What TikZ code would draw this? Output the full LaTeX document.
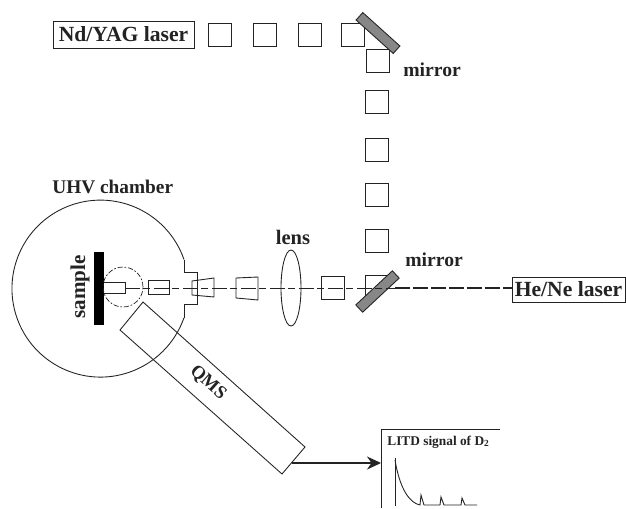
\documentclass[tikz,border=0pt]{standalone}
\usepackage{fontspec}
\setmainfont{Liberation Serif}
\usetikzlibrary{arrows.meta}
\definecolor{ink}{RGB}{35,35,35}
\definecolor{mirrorfill}{RGB}{135,135,135}
\tikzset{
  x=0.02cm,y=-0.02cm,
  thinline/.style={draw=ink,line width=0.5pt},
  sq/.style={thinline,minimum width=0.46cm,minimum height=0.46cm,inner sep=0pt},
  lab/.style={inner sep=0pt,text=ink,font=\fontsize{11.2}{13}\selectfont\bfseries},
  box/.style={thinline,inner sep=0pt,text=ink,font=\fontsize{12.3}{14}\selectfont\bfseries},
  mirrorbar/.style={draw=ink,fill=mirrorfill,line width=0.5pt,minimum width=1cm,minimum height=0.2cm,inner sep=0pt},
  beam/.style={draw=ink,line width=0.5pt,dash pattern=on 8.5pt off 2pt on 4pt off 2pt},
  beamheavy/.style={draw=ink,line width=0.65pt,dash pattern=on 8.5pt off 1.7pt}
}
\begin{document}
\begin{tikzpicture}
\useasboundingbox (0,0) rectangle (626,508);
\node[box,minimum width=2.82cm,minimum height=0.54cm] (nd) at (123.5,34.5) {Nd/YAG laser};
\node[box,minimum width=2.26cm,minimum height=0.5cm] (he) at (568.5,289.5) {He/Ne laser};
% optical squares
\node[sq] (t1) at (219.5,35) {};
\node[sq] (t2) at (264.5,35) {};
\node[sq] (t3) at (309.5,35) {};
\node[sq] (t4) at (352.5,35) {};
\node[sq] (v1) at (378,60.5) {};
\node[sq] (v2) at (377,102) {};
\node[sq] (v3) at (377,150) {};
\node[sq] (v4) at (377,195) {};
\node[sq] (v5) at (376.5,240.5) {};
\node[sq] (b1) at (333,288) {};
\draw[thinline] (365,296) -- (365,275) -- (389,275);
% mirrors
\node[mirrorbar,rotate=-42] (m1) at (378,33) {};
\node[mirrorbar,rotate=43] (m2) at (377.5,291.5) {};
% chamber
\draw[thinline] (184,259.5) arc[start angle=19.2,delta angle=321.6,radius=1.77cm];
\draw[thinline] (184,259.5) -- (184,272) -- (197,272) -- (197,304) -- (184,304) -- (184,317.5);
% sample and inner parts
\node[draw=black,fill=black,minimum width=0.19cm,minimum height=1.44cm,inner sep=0pt] (samp) at (99,288) {};
\draw[draw=ink,line width=0.4pt,dash pattern=on 3pt off 1pt on 1pt off 1pt] (123,287) circle[radius=0.4cm];
\draw[thinline] (104,282) -- (125,282) -- (125,293) -- (104,293);
\draw[thinline] (148,280) -- (169,280) -- (169,294) -- (148,294) -- cycle;
\draw[thinline] (192,281) -- (214,278) -- (214,297) -- (192,295) -- cycle;
\draw[thinline] (236,278) -- (258,277) -- (258,300) -- (236,298) -- cycle;
% lens
\draw[thinline] (291,288) ellipse[x radius=10,y radius=38];
% beam
\coordinate (beamL) at (125,288);
\coordinate (beamM) at (395,288);
\draw[beam] (beamL) -- (beamM);
\draw[beamheavy] (beamM) -- (beamM -| he.west);
% QMS
\draw[thinline] (143,302) -- (305,447) -- (282,474) -- (120,330) -- cycle;
\node[lab,rotate=-42,font=\fontsize{10.5}{12}\selectfont\bfseries] (tq) at (208,383) {QMS};
% labels
\node[lab,anchor=west] (tm1) at (403,70) {mirror};
\node[lab,anchor=west] (tm2) at (405,260) {mirror};
\node[lab,anchor=west,font=\fontsize{11}{13}\selectfont\bfseries] (tu) at (52,187) {UHV chamber};
\node[lab,font=\fontsize{11.7}{13}\selectfont\bfseries] (tl) at (293,237) {lens};
\node[lab,rotate=90,font=\fontsize{12}{14}\selectfont\bfseries] (ts) at (80,287) {sample};
% signal
\coordinate (arrS) at (292,463);
\coordinate (arrE) at (381,463);
\draw[-{Stealth[length=2.8mm,width=2.6mm]},draw=ink,fill=ink,line width=0.6pt] (arrS) -- (arrE);
\draw[thinline] (381,508) -- (381,429) -- (500,429);
\node[inner sep=0pt,font=\fontsize{7.6}{9}\selectfont\bfseries,text=ink,anchor=west] (tsig) at (387,442) {LITD signal of D\textsubscript{2}};
\draw[thinline] (395,458) -- (395,506);
\draw[thinline] (395,460) .. controls (400,490) and (410,503) .. (420,505) -- (421,495) -- (424,505) -- (440,505) -- (441,497) -- (444,505) -- (461,505) -- (462,498) -- (465,505) -- (477,505);
\end{tikzpicture}
\end{document}
